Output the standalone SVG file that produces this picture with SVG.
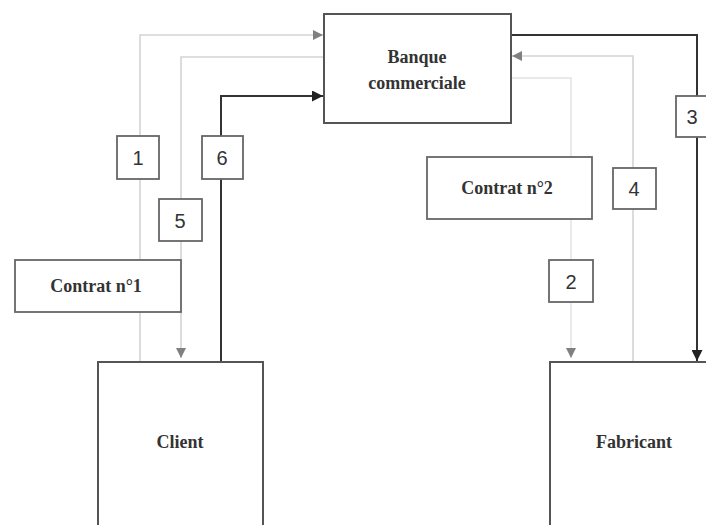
<svg xmlns="http://www.w3.org/2000/svg" width="706" height="525" viewBox="0 0 706 525">
<style>
.box{fill:#fff;stroke:#555;stroke-width:2}
.lbl{fill:#fff;stroke:#666;stroke-width:1.8}
.t{font-family:"Liberation Serif",serif;font-weight:bold;fill:#333;text-anchor:middle}
.n{font-family:"Liberation Sans",sans-serif;font-size:20px;fill:#333;text-anchor:middle}
.dark{fill:none;stroke:#333;stroke-width:2}
.light{fill:none;stroke:#d4d4d4;stroke-width:1.6}
.faint{fill:none;stroke:#e2e2e2;stroke-width:1.4}
</style>
<defs>
<marker id="ad" viewBox="0 0 10 10" refX="10" refY="5" markerWidth="11" markerHeight="11" orient="auto" markerUnits="userSpaceOnUse"><path d="M0,0L10,5L0,10z" fill="#222"/></marker>
<marker id="ag" viewBox="0 0 10 10" refX="10" refY="5" markerWidth="10" markerHeight="10" orient="auto" markerUnits="userSpaceOnUse"><path d="M0,0L10,5L0,10z" fill="#808080"/></marker>
</defs>
<rect width="706" height="525" fill="#fff"/>
<g id="connectors">
<path class="light" d="M140,362V35H323" marker-end="url(#ag)"/>
<path class="light" d="M323,57H181V358" marker-end="url(#ag)"/>
<path class="dark" d="M221,362V96H323" marker-end="url(#ad)"/>
<path class="dark" d="M511,35H697V361" marker-end="url(#ad)"/>
<path class="light" d="M633,362V56H512" marker-end="url(#ag)"/>
<path class="faint" d="M511,78H571V358" marker-end="url(#ag)"/>
</g>
<g id="banque"><rect class="box" x="324" y="14" width="187" height="109"/><text class="t" x="417" y="63" font-size="18">Banque</text><text class="t" x="417" y="89" font-size="18">commerciale</text></g>
<g id="client"><rect class="box" x="98" y="362" width="165" height="180"/><text class="t" x="180" y="448" font-size="18">Client</text></g>
<g id="fabricant"><rect class="box" x="550" y="362" width="180" height="180"/><text class="t" x="634" y="448" font-size="18">Fabricant</text></g>
<g id="l1"><rect class="lbl" x="117" y="136" width="42" height="43"/><text class="n" x="138" y="165">1</text></g>
<g id="l6"><rect class="lbl" x="202" y="136" width="41" height="43"/><text class="n" x="222" y="165">6</text></g>
<g id="l5"><rect class="lbl" x="159" y="199" width="43" height="42"/><text class="n" x="180" y="228">5</text></g>
<g id="contrat1"><rect class="lbl" x="15" y="260" width="166" height="52"/><text class="t" x="96" y="292" font-size="18">Contrat n°1</text></g>
<g id="contrat2"><rect class="lbl" x="427" y="157" width="165" height="62"/><text class="t" x="507" y="194" font-size="18">Contrat n°2</text></g>
<g id="l4"><rect class="lbl" x="613" y="168" width="43" height="41"/><text class="n" x="634" y="196">4</text></g>
<g id="l2"><rect class="lbl" x="549" y="260" width="44" height="42"/><text class="n" x="571" y="289">2</text></g>
<g id="l3"><rect class="lbl" x="676" y="96" width="42" height="41"/><text class="n" x="692" y="124">3</text></g>
</svg>
